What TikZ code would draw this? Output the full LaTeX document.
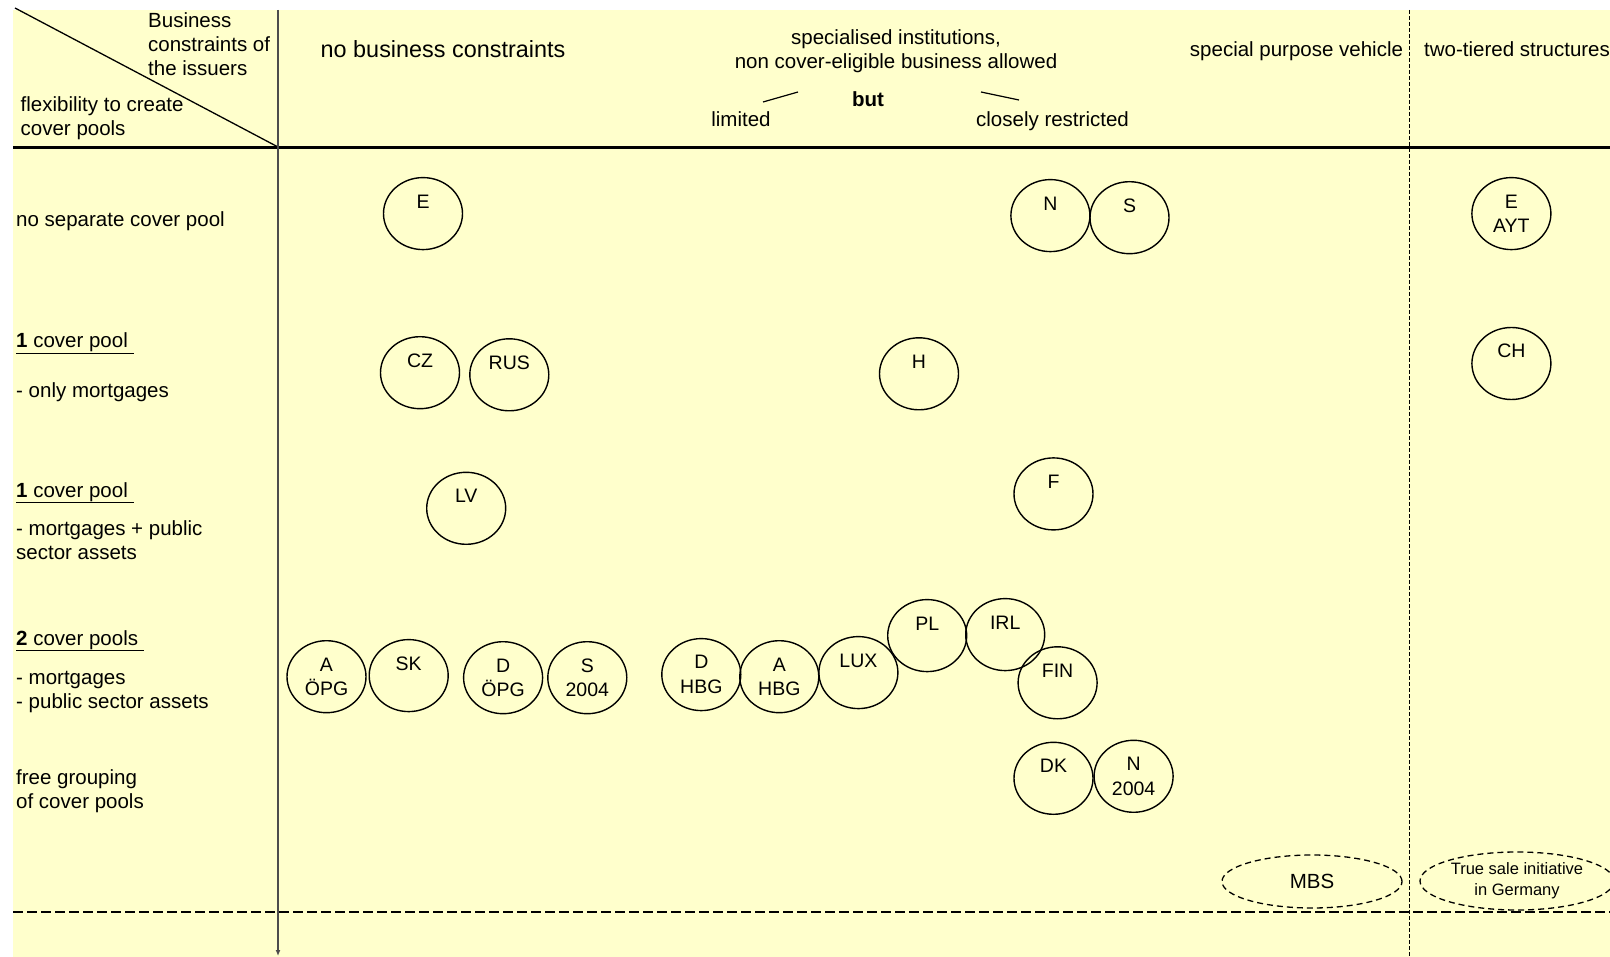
\documentclass[tikz,border=0pt]{standalone}
\usepackage{fontspec}
\setmainfont{Liberation Sans}
\usetikzlibrary{shapes.geometric,arrows.meta}
\definecolor{chartbg}{HTML}{FFFFCC}

\begin{document}
\begin{tikzpicture}[x=1pt,y=-1pt,
  txt/.style={inner sep=0, font=\fontsize{20.5}{24}\selectfont},
  pool/.style={draw=black, line width=1.4, ellipse, minimum width=79, minimum height=72,
    inner sep=0, align=center, font=\fontsize{19.5}{24.5}\selectfont},
  spv/.style={draw=black, line width=1.3, dash pattern=on 6pt off 4pt, ellipse,
    inner sep=0, align=center}]
  \useasboundingbox (0,0) rectangle (1610,957);
  \fill[chartbg] (13,10) rectangle (1610,957);
  \draw[line width=1.3] (15,8) -- (278,147);
  \draw[line width=3] (13,148) -- (1610,148);
  \draw[line width=1.2, dash pattern=on 10pt off 4pt] (13,912) -- (1610,912);
  \draw[line width=1, dash pattern=on 4pt off 2pt] (1409,10) -- (1409,957);
  \draw[black!70, line width=2, -{Latex[length=6pt,width=5pt]}] (278,10) -- (278,956);

  \node[txt, anchor=base west, align=left] (issuers) at (148,76) {Business\\constraints of\\the issuers};
  \node[txt, anchor=base west, align=left] (flex) at (20.5,136) {flexibility to create\\cover pools};
  \node[txt, anchor=base, font=\fontsize{23.4}{28}\selectfont] (nobc) at (443,58) {no business constraints};
  \node[txt, anchor=base, align=center] (spec) at (896,68.5) {specialised institutions,\\non cover-eligible business allowed};
  \node[txt, anchor=base] (but) at (868,107) {\textbf{but}};
  \node[txt, anchor=base] (limited) at (741,127) {limited};
  \node[txt, anchor=base] (closely) at (1052.5,127) {closely restricted};
  \draw[line width=1.2] (763,102) -- (798,92);
  \draw[line width=1.2] (981,92) -- (1019,100);
  \node[txt, anchor=base] (special) at (1296.5,57) {special purpose vehicle};
  \node[txt, anchor=base west] (tiered) at (1424,57) {two-tiered structures};

  \node[txt, anchor=base west] (row1) at (16,227) {no separate cover pool};
  \node[txt, anchor=base west] (row2) at (16,348) {\underline{\textbf{1} cover pool\ }};
  \node[txt, anchor=base west] (row2b) at (16,398) {- only mortgages};
  \node[txt, anchor=base west] (row3) at (16,497) {\underline{\textbf{1} cover pool\ }};
  \node[txt, anchor=base west, align=left] (row3b) at (16,559) {- mortgages + public\\sector assets};
  \node[txt, anchor=base west] (row4) at (16,645) {\underline{\textbf{2} cover pools\ }};
  \node[txt, anchor=base west, align=left] (row4b) at (16,708) {- mortgages\\- public sector assets};
  \node[txt, anchor=base west, align=left] (row5) at (16,808) {free grouping\\of cover pools};

  \node[pool] (pE) at (423,213.6) {E\\\phantom{E}};
  \node[pool] (pN) at (1050.4,215.6) {N\\\phantom{N}};
  \node[pool] (pS) at (1129.5,217.7) {S\\\phantom{S}};
  \node[pool] (pEAYT) at (1511.4,213.6) {E\\AYT};
  \node[pool] (pCZ) at (420,372.7) {CZ\\\phantom{C}};
  \node[pool] (pRUS) at (509.3,374.8) {RUS\\\phantom{R}};
  \node[pool] (pH) at (919,373.8) {H\\\phantom{H}};
  \node[pool] (pCH) at (1511.4,363.5) {CH\\\phantom{C}};
  \node[pool] (pLV) at (466.2,508.3) {LV\\\phantom{L}};
  \node[pool] (pF) at (1053.5,493.9) {F\\\phantom{F}};
  \node[pool] (pAOPG) at (326.5,676.7) {A\\ÖPG};
  \node[pool] (pSK) at (408.7,675.6) {SK\\\phantom{S}};
  \node[pool] (pDOPG) at (503.1,677.7) {D\\ÖPG};
  \node[pool] (pS2004) at (587.3,677.7) {S\\2004};
  \node[pool] (pDHBG) at (701.3,674.6) {D\\HBG};
  \node[pool] (pAHBG) at (779.3,676.7) {A\\HBG};
  \node[pool] (pLUX) at (858.4,672.6) {LUX\\\phantom{L}};
  \node[pool] (pPL) at (927.2,635.6) {PL\\\phantom{P}};
  \node[pool] (pIRL) at (1005.2,634.6) {IRL\\\phantom{I}};
  \node[pool] (pFIN) at (1057.6,682.8) {FIN\\\phantom{F}};
  \node[pool] (pDK) at (1053.5,778.3) {DK\\\phantom{D}};
  \node[pool] (pN2004) at (1133.6,776.3) {N\\2004};

  \node[spv, minimum width=180, minimum height=53, font=\fontsize{20.5}{24}\selectfont] (mbs) at (1312,881.5) {MBS};
  \node[spv, minimum width=194, minimum height=58, font=\fontsize{16.5}{21}\selectfont] (tsi) at (1517,881) {True sale initiative\\in Germany};
\end{tikzpicture}
\end{document}
